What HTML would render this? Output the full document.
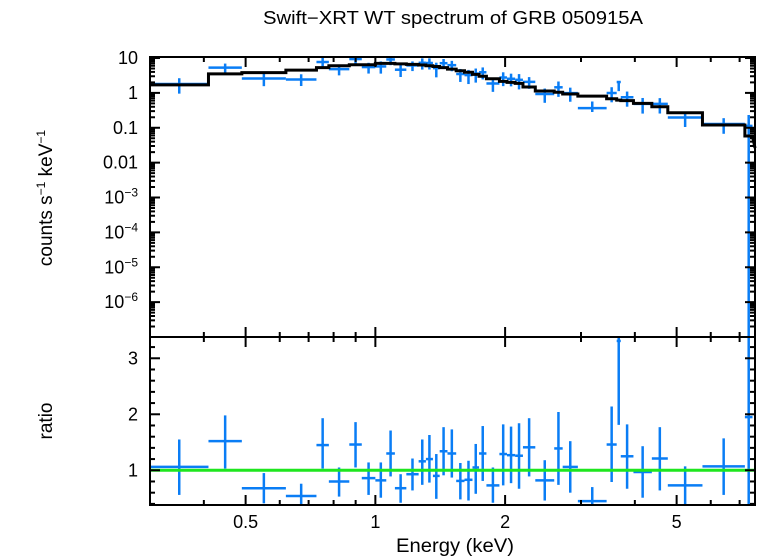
<!DOCTYPE html>
<html><head><meta charset="utf-8"><style>
html,body{margin:0;padding:0;background:#fff;}
svg{display:block;font-family:"Liberation Sans",sans-serif;}
</style></head><body>
<svg id="chart" width="758" height="556" viewBox="0 0 758 556">
<text x="453" y="24" text-anchor="middle" font-size="18" textLength="380" lengthAdjust="spacingAndGlyphs">Swift−XRT WT spectrum of GRB 050915A</text>
<text x="455" y="552" text-anchor="middle" font-size="19" textLength="118" lengthAdjust="spacingAndGlyphs">Energy (keV)</text>
<text transform="translate(52,198) rotate(-90)" text-anchor="middle" font-size="19">counts s<tspan font-size="12" dy="-7">−1</tspan><tspan dy="7"> keV</tspan><tspan font-size="12" dy="-7">−1</tspan></text>
<text transform="translate(52,421) rotate(-90)" text-anchor="middle" font-size="19">ratio</text>
<g id="g"></g>
</svg>
<script>
const edges=[0.30,0.41,0.49,0.62,0.73,0.78,0.87,0.93,1.00,1.06,1.11,1.18,1.26,1.31,1.36,1.41,1.47,1.54,1.61,1.68,1.74,1.81,1.94,2.02,2.11,2.20,2.35,2.60,2.72,2.95,3.44,3.63,3.71,3.97,4.38,4.77,5.74,7.20,7.5];
const model=[1.7,3.5,3.8,4.5,5.3,6.0,6.4,6.4,7.0,7.0,6.8,6.6,6.3,6.0,5.7,5.3,4.8,4.3,3.9,3.4,3.0,2.55,2.14,2.0,1.88,1.47,1.13,1.04,0.93,0.81,0.68,0.62,0.60,0.50,0.40,0.27,0.12,0.058];
const ratio=[1.06,1.52,0.68,0.54,1.45,0.80,1.46,0.86,0.82,1.30,0.68,0.93,1.16,1.20,0.90,1.34,1.30,0.81,0.83,1.05,1.30,0.73,1.29,1.27,1.26,1.41,0.82,1.39,1.06,0.45,1.46,3.31,1.25,0.97,1.21,0.73,1.07,1.95];
const ratioLo=[0.56,1.03,0.41,0.35,1.03,0.53,1.05,0.56,0.51,0.89,0.42,0.64,0.74,0.78,0.49,0.91,0.87,0.48,0.46,0.58,0.81,0.42,0.73,0.77,0.67,0.89,0.46,0.74,0.60,0.35,0.79,1.81,0.67,0.51,0.64,0.39,0.56,0];
const ratioHi=[1.55,1.98,0.95,0.76,1.93,1.05,1.86,1.14,1.14,1.71,0.93,1.21,1.55,1.63,1.29,1.77,1.73,1.13,1.17,1.47,1.79,1.05,1.82,1.78,1.84,1.93,1.18,2.04,1.52,0.70,2.14,3.39,1.82,1.43,1.77,1.07,1.57,4];
const xTicksMajor=[0.5,1,2,5];
const xTicksMinor=[0.3,0.4,0.6,0.7,0.8,0.9,3,4,6,7];
const yTopLabels=["10","1","0.1","0.01","10^-3","10^-4","10^-5","10^-6"];
const yTopDecades=[1,0,-1,-2,-3,-4,-5,-6];
const rTicksMajor=[1,2,3];

const L=150,R=755,T1=57,B1=337,T2=337,B2=505;
const XMIN=0.3,XMAX=7.6,YMIN=1e-7,YMAX=10.7,RMIN=0.38,RMAX=3.38;
const X=e=>L+Math.log10(e/XMIN)/Math.log10(XMAX/XMIN)*(R-L);
const Y1=v=>{if(v<=0)return B1;const y=T1+Math.log10(YMAX/v)/Math.log10(YMAX/YMIN)*(B1-T1);return Math.max(T1,Math.min(B1,y));};
const Y2=v=>Math.max(T2,Math.min(B2,T2+(RMAX-v)/(RMAX-RMIN)*(B2-T2)));
const NS="http://www.w3.org/2000/svg";
const g=document.getElementById('g');
function el(t,a){const e=document.createElementNS(NS,t);for(const k in a)e.setAttribute(k,a[k]);g.appendChild(e);return e;}
function ln(x1,y1,x2,y2,c,w){return el('line',{x1,y1,x2,y2,stroke:c,'stroke-width':w});}

let d='';
for(let i=0;i<model.length;i++){const y=Y1(model[i]);d+=(i?'L':'M')+X(edges[i])+','+y+'L'+X(edges[i+1])+','+y;}
d+='L'+X(XMAX)+','+Y1(model[model.length-1]*0.45);
for(let i=0;i<ratio.length;i++){
  const xc=X(Math.sqrt(edges[i]*edges[i+1])),x0=X(edges[i]),x1=X(edges[i+1]);
  let a=ln(x0,Y1(model[i]*ratio[i]),x1,Y1(model[i]*ratio[i]),'#0a7df5',2.5);
  
  a=ln(xc,Y1(model[i]*ratioLo[i]),xc,Y1(model[i]*ratioHi[i]),'#0a7df5',2.5);
  
  a=ln(x0,Y2(ratio[i]),x1,Y2(ratio[i]),'#0a7df5',2.5);
  
  a=ln(xc,Y2(ratioLo[i]),xc,Y2(ratioHi[i]),'#0a7df5',2.5);
  
}
const m=el('path',{d:d,fill:'none',stroke:'#000','stroke-width':3});


const gl=ln(L,Y2(1),R,Y2(1),'#1ee61e',3);



for(const [t,b] of [[T1,B1],[T2,B2]]){
  const f=el('rect',{x:L,y:t,width:R-L,height:b-t,fill:'none',stroke:'#000','stroke-width':2});
  
  
}
function xt(e,len){for(const [t,b] of [[T1,B1],[T2,B2]]){ln(X(e),t,X(e),t+len,'#000',2);ln(X(e),b,X(e),b-len,'#000',2);}}
xTicksMajor.forEach(e=>xt(e,10));xTicksMinor.forEach(e=>xt(e,5));
xTicksMajor.forEach(e=>{const t=el('text',{x:X(e),y:528,'text-anchor':'middle','font-size':18});t.textContent=String(e);
});
for(let k=-7;k<=1;k++){for(let j=1;j<10;j++){const v=j*Math.pow(10,k);if(v<YMIN||v>YMAX)continue;const len=j==1?10:5;ln(L,Y1(v),L+len,Y1(v),'#000',2);ln(R,Y1(v),R-len,Y1(v),'#000',2);}}
yTopLabels.forEach((s,i)=>{const y=Y1(Math.pow(10,yTopDecades[i]))+6;const t=el('text',{x:138,y:y,'text-anchor':'end','font-size':18});
 if(s.indexOf('^')>0){const p=s.split('^');t.textContent=p[0];const sp=document.createElementNS(NS,'tspan');sp.setAttribute('font-size','12');sp.setAttribute('dy','-7');sp.textContent=p[1].replace('-','−');t.appendChild(sp);}
 else t.textContent=s;
 });
for(let v=0.4;v<=3.38;v+=0.2){const maj=Math.abs(v-Math.round(v))<0.01;const len=maj?10:5;ln(L,Y2(v),L+len,Y2(v),'#000',2);ln(R,Y2(v),R-len,Y2(v),'#000',2);}
rTicksMajor.forEach(v=>{const t=el('text',{x:138,y:Y2(v)+6,'text-anchor':'end','font-size':18});t.textContent=String(v);
});
</script>
</body></html>
